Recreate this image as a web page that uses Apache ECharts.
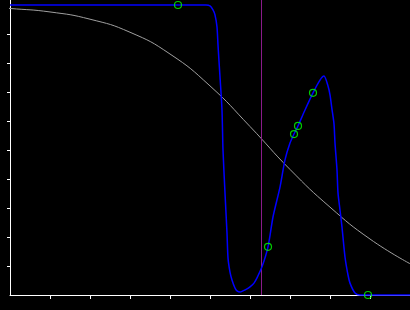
<!DOCTYPE html>
<html>
<head>
<meta charset="utf-8">
<script src="https://cdn.jsdelivr.net/npm/echarts@6/dist/echarts.min.js"></script>
<style>
html,body{margin:0;padding:0;background:#000;}
#chart{width:410px;height:310px;}
</style>
</head>
<body>
<div id="chart"></div>
<script>
// Blue curve
const blueX = [0, 2.25, 4.2, 4.9, 5.0, 5.075, 5.125, 5.175, 5.2, 5.25, 5.3, 5.325, 5.375, 5.425, 5.45, 5.5, 5.55, 5.625, 5.675, 5.75, 5.825, 5.925, 6.0, 6.1, 6.175, 6.3, 6.45, 6.575, 6.75, 6.875, 7.0, 7.1, 7.2, 7.375, 7.575, 7.75, 7.85, 7.95, 8.0, 8.05, 8.1, 8.125, 8.175, 8.2, 8.25, 8.3, 8.375, 8.45, 8.5, 8.625, 8.75, 8.95, 10];
const blueY = [1.0, 1.0, 1.0, 1.0, 0.997, 0.983, 0.966, 0.924, 0.862, 0.752, 0.638, 0.5, 0.352, 0.214, 0.128, 0.079, 0.052, 0.024, 0.014, 0.010, 0.014, 0.021, 0.028, 0.041, 0.059, 0.097, 0.166, 0.269, 0.372, 0.466, 0.524, 0.555, 0.583, 0.638, 0.697, 0.741, 0.755, 0.721, 0.690, 0.640, 0.590, 0.524, 0.431, 0.352, 0.293, 0.234, 0.131, 0.069, 0.041, 0.007, 0.0, 0.0, 0.0];
// Marker points
const markX = [4.2, 6.45, 7.1, 7.2, 7.575, 8.95];
const markY = [1.0, 0.166, 0.555, 0.583, 0.697, 0.0];
// Gray curve
const grayX = [-0.25, 0, 1, 2, 3, 4, 5, 6, 7, 8, 9, 10];
const grayY = [0.990, 0.988, 0.976, 0.951, 0.906, 0.831, 0.721, 0.581, 0.433, 0.303, 0.193, 0.108];
// Vertical marker line
const vLineX = 6.2875;
// Tick positions
const xTicks = [1, 2, 3, 4, 5, 6, 7, 8, 9];
const yTicks = [0.1, 0.2, 0.3, 0.4, 0.5, 0.6, 0.7, 0.8, 0.9];

const zip = (a, b) => a.map((v, i) => [v, b[i]]);

const chart = echarts.init(document.getElementById('chart'), null, {renderer: 'canvas'});
chart.setOption({
  backgroundColor: '#000',
  animation: false,
  grid: {left: 10, right: 0, top: 0, bottom: 15},
  xAxis: {
    type: 'value', min: 0, max: 10, interval: 1,
    axisLine: {show: true, onZero: false, lineStyle: {color: '#fff', width: 1}},
    axisTick: {show: true, length: 4, customValues: xTicks, lineStyle: {color: '#fff'}},
    axisLabel: {show: false},
    splitLine: {show: false}
  },
  yAxis: {
    type: 'value', min: 0, max: 1.0172, interval: 0.1,
    axisLine: {show: true, onZero: false, lineStyle: {color: '#fff', width: 1}},
    axisTick: {show: true, length: 3, customValues: yTicks, lineStyle: {color: '#fff'}},
    axisLabel: {show: false},
    splitLine: {show: false}
  },
  series: [
    {
      type: 'line', data: zip(grayX, grayY), smooth: 0.5, showSymbol: false, clip: false,
      lineStyle: {color: '#a0a0a0', width: 1}, z: 2
    },
    {
      type: 'line', data: [[vLineX, 0], [vLineX, 1.0172]], showSymbol: false,
      lineStyle: {color: '#8a1a8a', width: 1}, z: 3
    },
    {
      type: 'line', data: zip(blueX, blueY), smooth: 0.25, showSymbol: false, clip: false,
      lineStyle: {color: '#0000ff', width: 1.5}, z: 4
    },
    {
      type: 'scatter', data: zip(markX, markY), symbol: 'circle', symbolSize: 7,
      itemStyle: {color: 'rgba(0,0,0,0)', borderColor: '#00ff00', borderWidth: 1.2}, z: 5
    }
  ]
});
</script>
</body>
</html>
